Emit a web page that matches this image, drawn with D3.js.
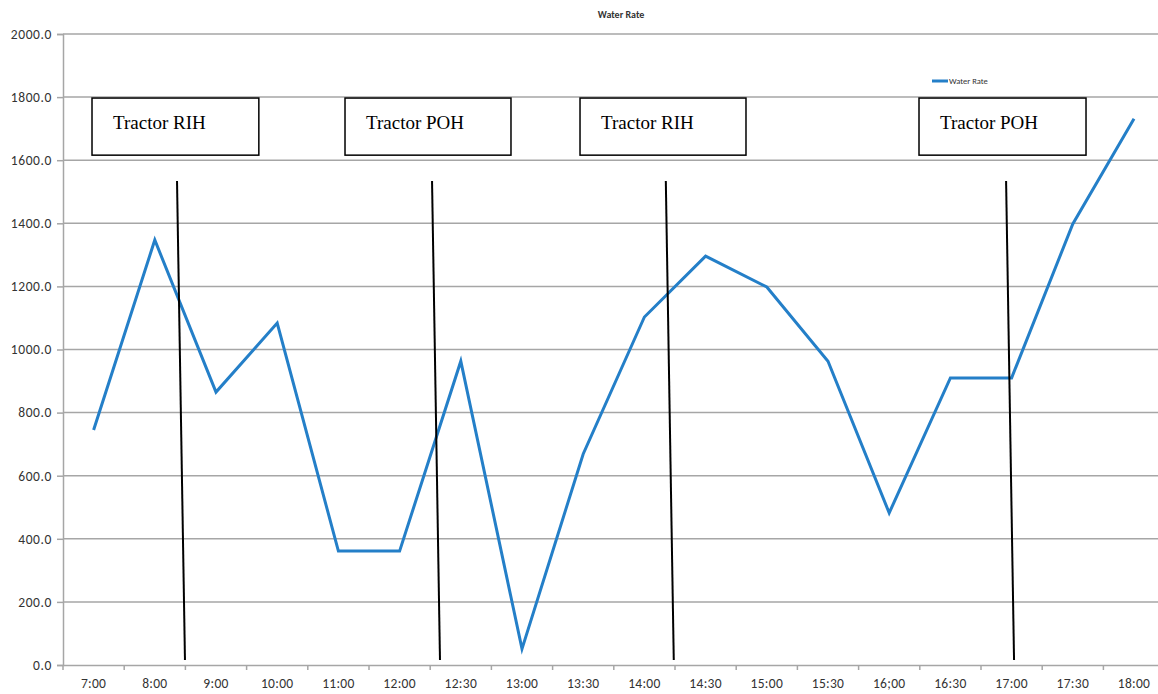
<!DOCTYPE html>
<html><head><meta charset="utf-8">
<script src="https://cdn.jsdelivr.net/npm/d3@7"></script>
<style>body{margin:0;background:#fff}svg{display:block}</style>
</head><body>
<script>
const categories = ["7:00","8:00","9:00","10:00","11:00","12:00","12:30","13:00","13:30","14:00","14:30","15:00","15:30","16;00","16:30","17:00","17:30","18:00"];
const waterRate = [745,1347,865,1084,361,361,963,51,669,1103,1296,1198,963,482,910,910,1398,1731];
const yTicks = [0,200,400,600,800,1000,1200,1400,1600,1800,2000];
// annotation boxes: category-index extents and value extents
const boxLabels = ["Tractor RIH","Tractor POH","Tractor RIH","Tractor POH"];
const boxStart = [0.474, 4.608, 8.448, 13.987];
const boxEnd = [3.2, 7.32, 11.16, 16.716];
const boxTop = [1797,1797,1797,1797];
const boxBottom = [1616,1616,1616,1616];
// marker lines (category index at top/bottom)
const lineTopIdx = [1.863, 6.03, 9.85, 15.41];
const lineBotIdx = [1.993, 6.16, 9.98, 15.54];
const lineTopVal = 1534, lineBotVal = 16;

const W = 1158, H = 694;
const mLeft = 63, bandW = 61.2, mTop = 34, mBottom = 665;
const axisFont = "Carlito, 'Liberation Sans', sans-serif";
const svg = d3.select("body").append("svg").attr("width", W).attr("height", H);

const x = d3.scaleBand().domain(categories).range([mLeft, mLeft + bandW * categories.length]).padding(0);
const xi = d3.scaleLinear().domain([0, categories.length]).range([mLeft, mLeft + bandW * categories.length]);
const y = d3.scaleLinear().domain([0, 2000]).range([mBottom, mTop]);

// gridlines
svg.append("g").selectAll("line").data(yTicks.filter(d => d > 0)).join("line")
  .attr("x1", mLeft).attr("x2", W).attr("y1", d => y(d)).attr("y2", d => y(d))
  .attr("stroke", "#a6a6a6").attr("stroke-width", 1.5);

// y axis
const yAxis = d3.axisLeft(y).tickValues(yTicks).tickFormat(d3.format(".1f")).tickSize(6).tickPadding(5);
const gy = svg.append("g").attr("transform", `translate(${mLeft},0)`).call(yAxis);
gy.select(".domain").attr("stroke", "#a6a6a6").attr("stroke-width", 1.5);
gy.selectAll(".tick line").attr("stroke", "#a6a6a6").attr("stroke-width", 1.5);
gy.selectAll("text").attr("font-family", axisFont).attr("font-size", 13.5).attr("letter-spacing", 0.6).attr("fill", "#333");

// x axis
const xAxis = d3.axisBottom(x).tickSize(0).tickPadding(13);
const gx = svg.append("g").attr("transform", `translate(0,${mBottom})`).call(xAxis);
gx.select(".domain").attr("stroke", "#a6a6a6").attr("stroke-width", 1.5);
gx.selectAll("text").attr("font-family", axisFont).attr("font-size", 13.5).attr("letter-spacing", 0.3).attr("fill", "#333");
gx.append("g").selectAll("line").data(d3.range(categories.length + 1)).join("line")
  .attr("x1", d => xi(d)).attr("x2", d => xi(d)).attr("y1", 0).attr("y2", 5)
  .attr("stroke", "#a6a6a6").attr("stroke-width", 1.5);

// data line
const line = d3.line().x((d, i) => x(categories[i]) + x.bandwidth() / 2).y(d => y(d));
svg.append("path").datum(waterRate).attr("d", line)
  .attr("fill", "none").attr("stroke", "#247fc8").attr("stroke-width", 3).attr("stroke-linejoin", "miter");

// marker lines
svg.append("g").selectAll("line").data(lineTopIdx).join("line")
  .attr("x1", d => xi(d)).attr("y1", y(lineTopVal))
  .attr("x2", (d, i) => xi(lineBotIdx[i])).attr("y2", y(lineBotVal))
  .attr("stroke", "#000").attr("stroke-width", 2);

// boxes
const bg = svg.append("g").selectAll("g").data(boxLabels).join("g");
bg.append("rect")
  .attr("x", (d, i) => xi(boxStart[i])).attr("y", (d, i) => y(boxTop[i]))
  .attr("width", (d, i) => xi(boxEnd[i]) - xi(boxStart[i]))
  .attr("height", (d, i) => y(boxBottom[i]) - y(boxTop[i]))
  .attr("fill", "#fff").attr("stroke", "#000").attr("stroke-width", 1.5);
bg.append("text")
  .attr("x", (d, i) => xi(boxStart[i]) + 21).attr("y", (d, i) => y(boxTop[i]) + 31)
  .attr("font-family", "'Liberation Serif', 'Times New Roman', serif").attr("font-size", 19)
  .attr("fill", "#000").text(d => d);

// title
svg.append("text").attr("x", 621).attr("y", 18).attr("text-anchor", "middle")
  .attr("font-family", axisFont).attr("font-size", 10).attr("font-weight", "bold")
  .attr("fill", "#333").text("Water Rate");

// legend
svg.append("line").attr("x1", 932).attr("x2", 948).attr("y1", 81).attr("y2", 81)
  .attr("stroke", "#247fc8").attr("stroke-width", 3);
svg.append("text").attr("x", 949).attr("y", 84)
  .attr("font-family", axisFont).attr("font-size", 8.5)
  .attr("fill", "#333").text("Water Rate");
</script>
</body></html>
